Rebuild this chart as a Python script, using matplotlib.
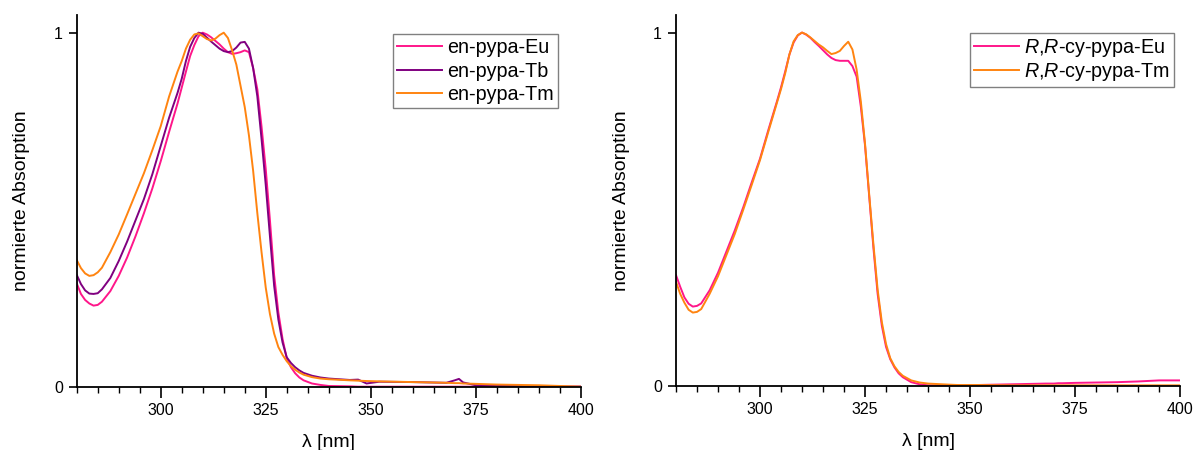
import matplotlib
matplotlib.use('Agg')
from matplotlib import pyplot as plt
from matplotlib.ticker import MultipleLocator, FixedLocator

plt.rcParams['font.family'] = ['Liberation Sans', 'DejaVu Sans']
plt.rcParams['mathtext.fontset'] = 'custom'
plt.rcParams['mathtext.it'] = 'Liberation Sans:italic'
plt.rcParams['mathtext.rm'] = 'Liberation Sans'

# wavelength grid (nm)
wl = [280, 281, 282, 283, 284, 285, 286, 288, 290, 292, 294, 296, 298, 300, 302, 304,
      305, 306, 307, 308, 309, 310, 311, 312, 313, 314, 315, 316, 317, 318, 319, 320,
      321, 322, 323, 324, 325, 326, 327, 328, 329, 330, 331, 332, 333, 334,
      336, 338, 340, 345, 347, 349, 352, 360, 368, 370, 371, 372,
      375, 380, 385, 390, 395, 400]

# en-pypa complexes, normalised absorption
en_eu = [.292, .262, .245, .235, .229, .231, .240, .270, .313, .365, .425, .490, .560, .637, .720, .800,
         .845, .890, .934, .965, .990, 1.0, .995, .987, .977, .967, .955, .945, .940, .942, .945, .950,
         .945, .900, .840, .735, .615, .470, .315, .210, .135, .080, .055, .038, .026, .018,
         .009, .005, .002, .001, 0, 0, 0, 0, 0, 0, 0, 0,
         0, 0, 0, 0, 0, 0]
en_tb = [.316, .290, .272, .263, .262, .264, .275, .307, .355, .410, .470, .530, .600, .680, .760, .830,
         .870, .920, .960, .985, 1.0, .997, .986, .975, .965, .955, .948, .945, .948, .958, .972, .974,
         .955, .900, .820, .700, .570, .425, .285, .190, .125, .083, .067, .055, .046, .039,
         .031, .026, .023, .019, .020, .009, .014, .013, .011, .018, .022, .012,
         .004, .003, .002, .001, 0, 0]
en_tm = [.358, .335, .320, .313, .315, .323, .336, .380, .430, .487, .545, .603, .668, .736, .820, .890,
         .920, .955, .980, .995, .998, .990, .982, .978, .983, .993, 1.0, .985, .950, .910, .850, .790,
         .710, .610, .490, .380, .280, .205, .150, .112, .090, .072, .058, .048, .040, .034,
         .027, .023, .021, .018, .017, .016, .015, .013, .011, .010, .010, .009,
         .008, .006, .005, .004, .002, 0]

# R,R-cy-pypa complexes, normalised absorption
rr_eu = [.313, .280, .250, .232, .224, .226, .233, .270, .320, .380, .440, .505, .575, .643, .725, .804,
         .845, .890, .938, .972, .992, 1.0, .994, .985, .973, .962, .950, .938, .928, .922, .920, .920,
         .920, .905, .875, .790, .680, .535, .390, .260, .170, .110, .075, .052, .035, .024,
         .010, .004, .001, 0, .001, .001, .002, .004, .006, .006, .007, .007,
         .008, .009, .010, .012, .015, .015]
rr_tm = [.294, .260, .235, .215, .207, .209, .217, .260, .310, .370, .430, .498, .568, .639, .720, .800,
         .840, .885, .938, .975, .993, 1.0, .995, .986, .976, .966, .958, .948, .939, .942, .948, .962,
         .974, .952, .895, .805, .685, .540, .400, .272, .180, .118, .078, .055, .039, .028,
         .015, .009, .006, .003, .002, .002, .002, .001, .001, .001, .001, .001,
         .001, .001, .001, .001, .001, .001]

c_eu = '#ff168a'
c_tb = '#800080'
c_tm = '#ff8410'


def style_axes(ax):
    ax.set_xlim(280, 400)
    ax.set_ylim(0, 1.05)
    for s in ['top', 'right']:
        ax.spines[s].set_visible(False)
    for s in ['left', 'bottom']:
        ax.spines[s].set_linewidth(1.3)
    ax.xaxis.set_major_locator(FixedLocator([300, 325, 350, 375, 400]))
    ax.xaxis.set_minor_locator(MultipleLocator(5))
    ax.yaxis.set_major_locator(FixedLocator([0, 1]))
    ax.tick_params(axis='x', which='major', length=8, width=1.2, labelsize=11.5, pad=4)
    ax.tick_params(axis='x', which='minor', length=4, width=1.0)
    ax.tick_params(axis='y', which='major', length=6, width=1.2, labelsize=11.5, pad=4)
    ax.set_xlabel('λ [nm]', fontsize=14, labelpad=11)
    ax.set_ylabel('normierte Absorption', fontsize=14, labelpad=17)


def add_legend(ax, anchor, spacing):
    leg = ax.legend(loc='upper left', bbox_to_anchor=anchor, borderaxespad=0,
                    fontsize=14.2, fancybox=False, edgecolor='#808080', framealpha=1,
                    handlelength=2.3, handletextpad=0.25, labelspacing=spacing, borderpad=0.2)
    leg.get_frame().set_linewidth(1.0)
    return leg


fig = plt.figure(figsize=(11.95, 4.5), dpi=100)

ax1 = fig.add_axes([0.0642, 0.1407, 0.4218, 0.826])
ax1.plot(wl, en_eu, c=c_eu, lw=1.4, label='en-pypa-Eu')
ax1.plot(wl, en_tb, c=c_tb, lw=1.4, label='en-pypa-Tb')
ax1.plot(wl, en_tm, c=c_tm, lw=1.4, label='en-pypa-Tm')
style_axes(ax1)
add_legend(ax1, (0.627, 0.948), 0.22)

ax2 = fig.add_axes([0.5657, 0.1429, 0.4218, 0.824])
ax2.plot(wl, rr_eu, c=c_eu, lw=1.4, label=r'$\mathit{R}$,$\mathit{R}$-cy-pypa-Eu')
ax2.plot(wl, rr_tm, c=c_tm, lw=1.4, label=r'$\mathit{R}$,$\mathit{R}$-cy-pypa-Tm')
style_axes(ax2)
add_legend(ax2, (0.583, 0.951), 0.1)

fig.savefig('out.png', dpi=100)
